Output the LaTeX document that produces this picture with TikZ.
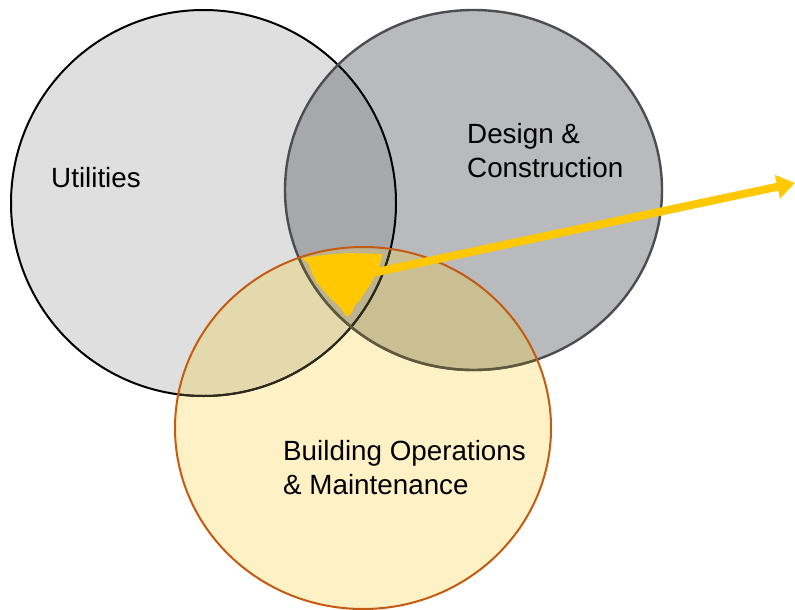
\documentclass[tikz,border=0pt]{standalone}
\usepackage{fontspec}
\setmainfont{Liberation Sans}
\usetikzlibrary{arrows.meta}

\definecolor{utilfill}{HTML}{DEDFDE}
\definecolor{designfill}{HTML}{B9BABC}
\definecolor{opsfill}{HTML}{FFF1C6}
\definecolor{udfill}{HTML}{A7A8AA}
\definecolor{ubfill}{HTML}{E3D9AD}
\definecolor{dbfill}{HTML}{C9BF93}
\definecolor{udbfill}{HTML}{BDB390}
\definecolor{designline}{HTML}{4D4D51}
\definecolor{utilinner}{HTML}{2E2A1A}
\definecolor{designinner}{HTML}{605838}
\definecolor{opsline}{HTML}{C55A11}
\definecolor{gold}{HTML}{FFC800}

\begin{document}
\begin{tikzpicture}[x=1pt, y=-1pt, >={Triangle[length=18pt,width=23pt]},
    font=\fontsize{27.8}{34}\selectfont,
    venntext/.style={anchor=base west, align=left, inner sep=0pt}]

    \useasboundingbox (0,0) rectangle (795,610);

    \def\util{(203.5,203) ellipse[x radius=192.5pt, y radius=193pt]}
    \def\design{(473.5,190) ellipse[x radius=188.5pt, y radius=180pt]}
    \def\ops{(363,428) ellipse[x radius=188pt, y radius=181pt]}

    % fills and overlaps
    \fill[utilfill] \util;
    \fill[designfill] \design;
    \fill[opsfill] \ops;
    \begin{scope}
    \clip \util;
    \fill[udfill] \design;
    \fill[ubfill] \ops;
    \end{scope}
    \begin{scope}
    \clip \design;
    \fill[dbfill] \ops;
    \clip \ops;
    \fill[udbfill] \util;
    \end{scope}

    % outlines
    \draw[line width=2pt] \util;
    \draw[designline, line width=2.4pt] \design;
    \begin{scope}
    \clip \ops;
    \draw[utilinner, line width=2pt] \util;
    \draw[designinner, line width=2.4pt] \design;
    \end{scope}
    \draw[opsline, line width=2pt] \ops;

    % the common core
    \fill[gold] (302,258) -- (323,255) -- (347,253) -- (382,254) -- (382,257)
        -- (377,273) -- (370,285) -- (365,292) -- (360,300) -- (355,305)
        -- (352,312) -- (347,317) -- (342,310) -- (338,305) -- (332,300)
        -- (325,292) -- (317,283) -- (312,273) -- (308,263) -- cycle;

    \coordinate (core) at (372,273);
    \coordinate (outside) at (795,183);
    \draw[gold, line width=8pt, ->] (core) -- (outside);

    % base is the last line of each label
    \node[venntext] (util-label) at (51,187) {Utilities};
    \node[venntext] (design-label) at (467,177) {Design \&\\Construction};
    \node[venntext] (ops-label) at (283,494) {Building Operations\\\& Maintenance};
\end{tikzpicture}
\end{document}
